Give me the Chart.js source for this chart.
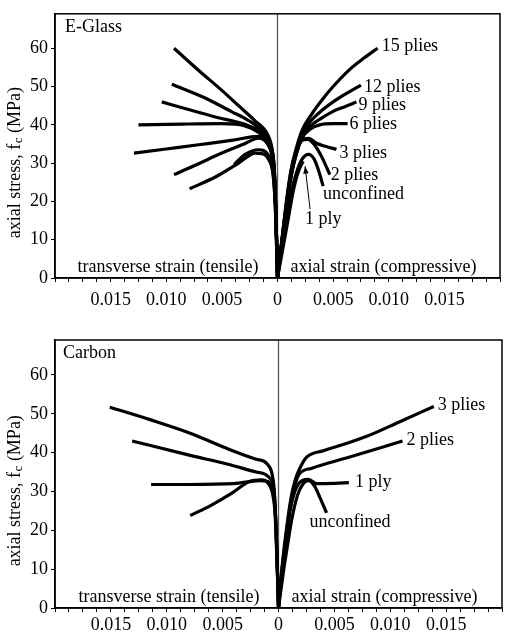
<!DOCTYPE html>
<html>
<head>
<meta charset="utf-8">
<script src="https://cdn.jsdelivr.net/npm/chart.js@4"></script>
<style>
  html, body { margin: 0; padding: 0; background: #fff; }
  #wrap { position: relative; width: 507px; height: 633px; }
  .panel { position: absolute; left: 0; width: 507px; }
  #glassBox { top: 0; height: 310px; }
  #carbonBox { top: 310px; height: 323px; }
</style>
</head>
<body>
<div id="wrap">
  <div class="panel" id="glassBox"><canvas id="glassChart"></canvas></div>
  <div class="panel" id="carbonBox"><canvas id="carbonChart"></canvas></div>
</div>
<script>
// tick values
const strainMajorTicks = [-0.015, -0.010, -0.005, 0, 0.005, 0.010, 0.015];
const stressTicks = [0, 10, 20, 30, 40, 50, 60];

// E-Glass curves: [strain, stress MPa]; negative strain = transverse (tensile)
const glassLabels = ['15 plies', '12 plies', '9 plies', '6 plies', '3 plies', '2 plies', '1 ply', 'unconfined'];

const glass15Axial = [[0, 0], [0.0004, 10], [0.0008, 20], [0.0012, 28], [0.0017, 34], [0.0022, 38.5], [0.003, 42.5], [0.004, 46.5], [0.005, 50], [0.0065, 54.5], [0.0078, 57.5], [0.009, 60]];
const glass12Axial = [[0, 0], [0.0004, 10], [0.0008, 19.5], [0.0012, 27.5], [0.0017, 33.5], [0.0022, 37.5], [0.003, 41], [0.004, 43.8], [0.005, 46], [0.0062, 48.2], [0.0075, 50.4]];
const glass9Axial = [[0, 0], [0.0004, 10], [0.0008, 19], [0.0012, 27], [0.0017, 33], [0.0022, 37], [0.003, 39.8], [0.004, 41.8], [0.005, 43.5], [0.0061, 44.8], [0.0071, 46]];
const glass6Axial = [[0, 0], [0.0004, 9.5], [0.0008, 18.5], [0.0012, 26.5], [0.0017, 32.5], [0.0022, 36.5], [0.003, 39], [0.0038, 40], [0.005, 40.3], [0.0063, 40.3]];
const glass3Axial = [[0, 0], [0.0004, 9.5], [0.0008, 18.5], [0.0012, 26.5], [0.0017, 33], [0.0022, 36], [0.0028, 36.5], [0.0035, 35.2], [0.0043, 34.4], [0.0053, 33.6]];
const glass2Axial = [[0, 0], [0.0004, 9], [0.0008, 18], [0.0012, 26], [0.0017, 32.5], [0.0022, 36], [0.0027, 36.2], [0.0034, 34.5], [0.004, 31.5], [0.0047, 27]];
const glass1Axial = [[0, 0], [0.0005, 8], [0.001, 16], [0.0014, 22.5], [0.0019, 28], [0.0023, 30.5]];
const glassUAxial = [[0, 0], [0.0004, 8], [0.0008, 15.5], [0.0012, 22], [0.0017, 27.5], [0.0022, 31], [0.0028, 32.3], [0.0033, 31], [0.0037, 28], [0.0041, 24]];

const glass15Trans = [[0, 0], [-0.0001, 12], [-0.0002, 22], [-0.0003, 29], [-0.0005, 34], [-0.0009, 37.5], [-0.002, 41], [-0.0035, 45], [-0.005, 49], [-0.007, 54], [-0.0093, 60]];
const glass12Trans = [[0, 0], [-0.0001, 12], [-0.0002, 22], [-0.0003, 29], [-0.0005, 33.5], [-0.0009, 36.5], [-0.0017, 39.3], [-0.003, 41.8], [-0.0041, 43.4], [-0.0065, 47], [-0.0095, 50.6]];
const glass9Trans = [[0, 0], [-0.0001, 12], [-0.0002, 22], [-0.0003, 28.5], [-0.0005, 33], [-0.0009, 36], [-0.0017, 38.5], [-0.003, 40.2], [-0.0055, 42], [-0.008, 44], [-0.0104, 46]];
const glass6Trans = [[0, 0], [-0.0001, 12], [-0.0002, 21.5], [-0.0003, 28], [-0.0005, 32.5], [-0.0009, 35.5], [-0.0017, 38], [-0.003, 39.8], [-0.005, 40.3], [-0.0085, 40.2], [-0.0125, 40]];
const glass3Trans = [[0, 0], [-0.0001, 12], [-0.0002, 21.5], [-0.0003, 28], [-0.0005, 32.5], [-0.0009, 35.5], [-0.0017, 37], [-0.004, 36], [-0.0071, 34.8], [-0.01, 33.7], [-0.0129, 32.6]];
const glass2Trans = [[0, 0], [-0.0001, 12], [-0.0002, 21], [-0.0003, 27.5], [-0.0005, 32], [-0.0009, 35], [-0.0017, 36.5], [-0.003, 35], [-0.0055, 32], [-0.0075, 29.3], [-0.0093, 27]];
const glass1Trans = [[0, 0], [-0.0001, 10], [-0.0002, 19], [-0.0004, 27.5], [-0.0008, 32], [-0.0017, 33.5], [-0.0029, 32.3], [-0.0039, 29.6]];
const glassUTrans = [[0, 0], [-0.0001, 10], [-0.0002, 19], [-0.0004, 27], [-0.0008, 31], [-0.0014, 32.5], [-0.002, 32.6], [-0.0035, 30], [-0.0055, 26.5], [-0.0079, 23.3]];

// Carbon curves
const carbonLabels = ['3 plies', '2 plies', '1 ply', 'unconfined'];

const carbon3Axial = [[0, 0], [0.0003, 10], [0.0007, 20], [0.0011, 28], [0.0015, 33], [0.002, 36.5], [0.0025, 38.8], [0.004, 40.5], [0.006, 42.3], [0.0079, 44.2], [0.0108, 47.9], [0.0139, 51.9]];
const carbon2Axial = [[0, 0], [0.0003, 9.5], [0.0007, 19], [0.0011, 27], [0.0015, 32], [0.0019, 34.6], [0.003, 36], [0.0063, 38.8], [0.0111, 43]];
const carbon1Axial = [[0, 0], [0.0003, 9], [0.0007, 18], [0.0011, 26], [0.0016, 31], [0.0021, 32.8], [0.0027, 33.1], [0.0034, 32], [0.005, 32.1], [0.0063, 32.3]];
const carbonUAxial = [[0, 0], [0.0004, 8.5], [0.0008, 16], [0.0012, 23], [0.0017, 29], [0.0022, 32], [0.0027, 32.8], [0.0032, 31.5], [0.0037, 28.5], [0.0043, 24.5]];

const carbon3Trans = [[0, 0], [-0.0001, 10], [-0.0002, 19], [-0.0003, 26], [-0.0004, 31], [-0.0008, 36.3], [-0.002, 38.3], [-0.0044, 40.8], [-0.0079, 45], [-0.0115, 48.5], [-0.0151, 51.7]];
const carbon2Trans = [[0, 0], [-0.0001, 10], [-0.0002, 19], [-0.0003, 26], [-0.0004, 30], [-0.0008, 33.5], [-0.002, 35], [-0.0045, 37], [-0.0079, 39.3], [-0.0131, 43]];
const carbon1Trans = [[0, 0], [-0.0001, 10], [-0.0002, 19], [-0.0003, 25.5], [-0.0005, 30], [-0.0009, 32.5], [-0.0017, 32.8], [-0.004, 32], [-0.008, 31.8], [-0.0114, 31.8]];
const carbonUTrans = [[0, 0], [-0.0001, 9], [-0.0002, 17], [-0.0003, 24], [-0.0005, 29], [-0.0009, 32], [-0.0015, 33], [-0.0026, 32.6], [-0.0041, 29.7], [-0.006, 26.5], [-0.0079, 23.8]];

const FONT = '"Liberation Serif", "DejaVu Serif", serif';
const FS = 18;

function toPoints(arr) {
  return arr.map(([x, y]) => ({ x, y }));
}

function curveSet(label, axial, trans) {
  const base = {
    showLine: true,
    borderColor: '#000',
    borderWidth: 3.2,
    pointRadius: 0,
    fill: false,
    cubicInterpolationMode: 'monotone',
  };
  return [
    { ...base, label: label, data: toPoints(axial) },
    { ...base, label: label + ' (transverse)', data: toPoints(trans) },
  ];
}

// draws frame, zero line, y title with subscript, panel texts and curve labels
const decorPlugin = {
  id: 'decor',
  beforeDatasetsDraw(chart) {
    const { ctx, chartArea: a, scales } = chart;
    const x0 = scales.x.getPixelForValue(0);
    ctx.save();
    ctx.strokeStyle = '#555';
    ctx.lineWidth = 1.3;
    ctx.beginPath();
    ctx.moveTo(x0, a.top);
    ctx.lineTo(x0, a.bottom);
    ctx.stroke();
    ctx.restore();
  },
  afterDraw(chart, args, opts) {
    const { ctx, chartArea: a, scales } = chart;
    const x0 = scales.x.getPixelForValue(0);
    ctx.save();
    // frame
    ctx.strokeStyle = '#000';
    ctx.lineWidth = 1.5;
    ctx.strokeRect(a.left, a.top, a.right - a.left, a.bottom - a.top);

    ctx.fillStyle = '#000';
    ctx.font = FS + 'px ' + FONT;
    ctx.textBaseline = 'middle';

    // panel name
    ctx.textAlign = 'left';
    ctx.fillText(opts.name, a.left + opts.nameDx, a.top + 13);

    // strain direction texts
    ctx.textAlign = 'right';
    ctx.fillText('transverse strain (tensile)', x0 - 19, a.bottom - 11);
    ctx.textAlign = 'left';
    ctx.fillText('axial strain (compressive)', x0 + 13, a.bottom - 11);

    // curve labels at the end of the axial branches
    opts.tags.forEach((t) => {
      const ds = chart.data.datasets.find((d) => d.label === t.text);
      const last = ds.data[ds.data.length - 1];
      const px = scales.x.getPixelForValue(last.x);
      const py = scales.y.getPixelForValue(last.y);
      ctx.textAlign = 'left';
      ctx.fillText(t.text, px + t.dx, py + t.dy);
      if (t.arrow) {
        const x1 = px + t.dx + 5, y1 = py + t.dy - 10;
        const x2 = px + 2, y2 = py + 5;
        ctx.strokeStyle = '#000';
        ctx.lineWidth = 1;
        ctx.beginPath();
        ctx.moveTo(x1, y1);
        ctx.lineTo(x2, y2);
        ctx.stroke();
        const ang = Math.atan2(y2 - y1, x2 - x1);
        ctx.beginPath();
        ctx.moveTo(x2, y2);
        ctx.lineTo(x2 - 8 * Math.cos(ang - 0.35), y2 - 8 * Math.sin(ang - 0.35));
        ctx.lineTo(x2 - 8 * Math.cos(ang + 0.35), y2 - 8 * Math.sin(ang + 0.35));
        ctx.closePath();
        ctx.fill();
      }
    });

    // y axis title: axial stress, f_c (MPa)
    const cy = (a.top + a.bottom) / 2 + 17;
    ctx.translate(15, cy);
    ctx.rotate(-Math.PI / 2);
    const p1 = 'axial stress, f', p2 = 'c', p3 = ' (MPa)';
    const big = FS + 'px ' + FONT, small = '13px ' + FONT;
    ctx.font = big;
    const w1 = ctx.measureText(p1).width, w3 = ctx.measureText(p3).width;
    ctx.font = small;
    const w2 = ctx.measureText(p2).width;
    const sx = -(w1 + w2 + w3) / 2;
    ctx.textAlign = 'left';
    ctx.font = big;
    ctx.fillText(p1, sx, 0);
    ctx.font = small;
    ctx.fillText(p2, sx + w1 + 0.5, 4);
    ctx.font = big;
    ctx.fillText(p3, sx + w1 + w2 + 0.5, 0);
    ctx.restore();
  },
};

function makeOptions(panel) {
  const minorStep = 0.00125;
  const xTicks = [];
  for (let v = -0.02; v <= 0.02 + 1e-9; v += minorStep) xTicks.push(Math.round(v * 1e6) / 1e6);
  return {
    responsive: true,
    maintainAspectRatio: false,
    animation: false,
    layout: { padding: { top: panel.padTop, right: 5, left: 0, bottom: 0 } },
    plugins: {
      legend: { display: false },
      tooltip: { enabled: false },
      decor: panel.decor,
    },
    scales: {
      x: {
        type: 'linear',
        min: -0.02,
        max: 0.02,
        afterBuildTicks: (axis) => { axis.ticks = xTicks.map((v) => ({ value: v })); },
        afterFit: (axis) => { axis.height = panel.xHeight; },
        ticks: {
          autoSkip: false,
          maxRotation: 0,
          padding: panel.xPad,
          color: '#000',
          font: { family: FONT, size: FS },
          callback: (v) => {
            const hit = strainMajorTicks.find((m) => Math.abs(m - v) < 1e-7);
            if (hit === undefined) return '';
            return hit === 0 ? '0' : Math.abs(hit).toFixed(3);
          },
        },
        grid: { drawOnChartArea: false, drawTicks: true, tickLength: 4, color: '#000', tickWidth: 1 },
        border: { display: true, color: '#000', width: 1.5 },
      },
      y: {
        type: 'linear',
        min: 0,
        max: 69,
        afterBuildTicks: (axis) => { axis.ticks = stressTicks.map((v) => ({ value: v })); },
        afterFit: (axis) => { axis.width = 55; },
        ticks: {
          padding: 3,
          color: '#000',
          font: { family: FONT, size: FS },
        },
        grid: { drawOnChartArea: false, drawTicks: true, tickLength: 4, color: '#000', tickWidth: 1 },
        border: { display: true, color: '#000', width: 1.5 },
      },
    },
  };
}

const glassDatasets = [
  ...curveSet(glassLabels[0], glass15Axial, glass15Trans),
  ...curveSet(glassLabels[1], glass12Axial, glass12Trans),
  ...curveSet(glassLabels[2], glass9Axial, glass9Trans),
  ...curveSet(glassLabels[3], glass6Axial, glass6Trans),
  ...curveSet(glassLabels[4], glass3Axial, glass3Trans),
  ...curveSet(glassLabels[5], glass2Axial, glass2Trans),
  ...curveSet(glassLabels[6], glass1Axial, glass1Trans),
  ...curveSet(glassLabels[7], glassUAxial, glassUTrans),
];

const carbonDatasets = [
  ...curveSet(carbonLabels[0], carbon3Axial, carbon3Trans),
  ...curveSet(carbonLabels[1], carbon2Axial, carbon2Trans),
  ...curveSet(carbonLabels[2], carbon1Axial, carbon1Trans),
  ...curveSet(carbonLabels[3], carbonUAxial, carbonUTrans),
];

new Chart(document.getElementById('glassChart'), {
  type: 'scatter',
  data: { datasets: glassDatasets },
  options: makeOptions({
    padTop: 10,
    xHeight: 32,
    xPad: 7,
    decor: {
      name: 'E-Glass',
      nameDx: 10,
      tags: [
        { text: '15 plies', dx: 4, dy: -2 },
        { text: '12 plies', dx: 3, dy: 2 },
        { text: '9 plies', dx: 2, dy: 3 },
        { text: '6 plies', dx: 2, dy: 1 },
        { text: '3 plies', dx: 3, dy: 4 },
        { text: '2 plies', dx: 1, dy: 1 },
        { text: 'unconfined', dx: 0, dy: 8 },
        { text: '1 ply', dx: 2, dy: 58, arrow: true },
      ],
    },
  }),
  plugins: [decorPlugin],
});

new Chart(document.getElementById('carbonChart'), {
  type: 'scatter',
  data: { datasets: carbonDatasets },
  options: makeOptions({
    padTop: 30,
    xHeight: 25,
    xPad: 2,
    decor: {
      name: 'Carbon',
      nameDx: 8,
      tags: [
        { text: '3 plies', dx: 4, dy: -1 },
        { text: '2 plies', dx: 4, dy: -1 },
        { text: '1 ply', dx: 6, dy: 0 },
        { text: 'unconfined', dx: -17, dy: 9 },
      ],
    },
  }),
  plugins: [decorPlugin],
});
</script>
</body>
</html>
